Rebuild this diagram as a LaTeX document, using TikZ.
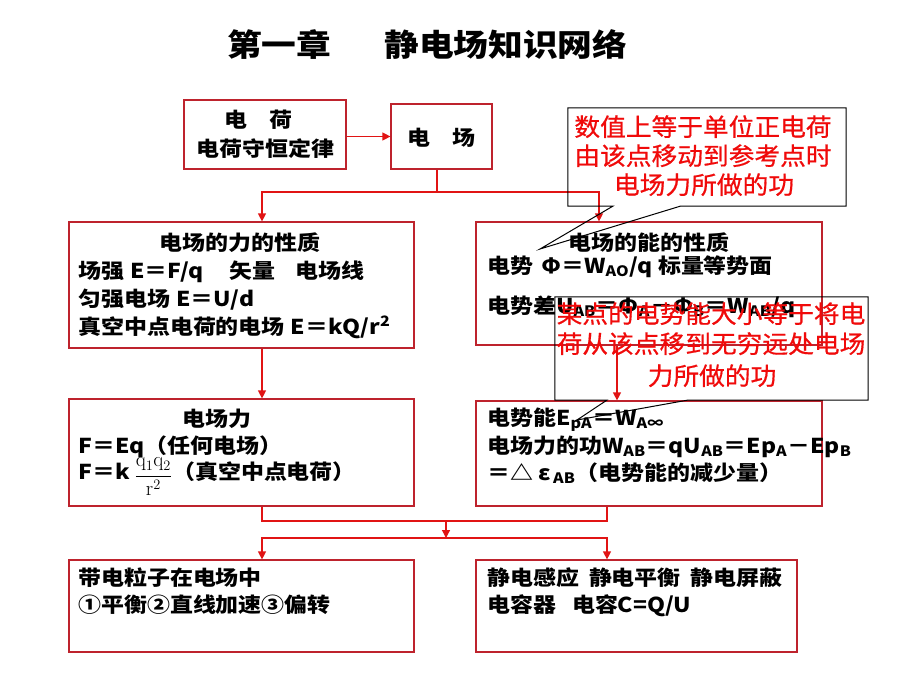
\documentclass[tikz,border=0pt]{standalone}
\usepackage[no-math]{fontspec}
\setmainfont{Noto Sans CJK SC}
\newfontfamily\blk[FakeStretch=1.12]{Noto Sans CJK SC}
\newfontfamily\rfont[FakeStretch=1.05,FakeBold=0.6]{Noto Sans CJK SC}
\usetikzlibrary{arrows.meta,calc}
\definecolor{boxred}{RGB}{190,35,45}
\definecolor{linered}{RGB}{225,20,20}
\definecolor{txtred}{RGB}{240,10,10}
\newcommand\sub[1]{\textsubscript{#1}}
\tikzset{
  bx/.style={draw=boxred, line width=1.2pt, inner sep=0pt},
  txt/.style={inner sep=0pt, anchor=base west, font=\blk\bfseries\fontsize{20.5}{24}\selectfont},
  txtc/.style={txt, anchor=base},
  rtxt/.style={inner sep=0pt, anchor=base, text=txtred, font=\rfont\fontsize{24.5}{28}\selectfont},
  arr/.style={draw=linered, line width=1.2pt, -{Triangle[length=8pt,width=8pt]}},
  ln/.style={draw=linered, line width=1.2pt},
  co/.style={draw=black, line width=1pt, line join=miter}
}
\begin{document}
\begin{tikzpicture}[x=1pt,y=-1pt]
\useasboundingbox (0,0) rectangle (920,690);
\fill[white] (0,0) rectangle (920,690);

% title
\node[anchor=base west, inner sep=0pt, font=\blk\bfseries\fontsize{31}{31}\selectfont] (title) at (227,57) {第一章\hspace{53pt}静电场知识网络};

% boxes
\node[bx, minimum width=162pt, minimum height=69pt] (b1) at (265,134.5) {};
\node[bx, minimum width=101pt, minimum height=65pt] (b2) at (441.5,136.5) {};
\node[bx, minimum width=345pt, minimum height=126pt] (b3) at (241.5,285) {};
\node[bx, minimum width=346pt, minimum height=123pt] (b4) at (649,283.5) {};
\node[bx, minimum width=345pt, minimum height=107pt] (b5) at (241.5,452.5) {};
\node[bx, minimum width=346pt, minimum height=105pt] (b6) at (649,453.5) {};
\node[bx, minimum width=345pt, minimum height=92pt] (b7) at (241.5,606) {};
\node[bx, minimum width=321pt, minimum height=92pt] (b8) at (636.5,606) {};

% box texts
\node[txtc] (b1t) at (258.5,128) {电\hspace{23pt}荷};
\node[txtc] (b1l) at (265.5,156) {电荷守恒定律};
\node[txtc] (b2t) at (441.5,145) {电\hspace{23pt}场};

\node[txtc] (b3t) at (240,250) {电场的力的性质};
\node[txt] (b3l1) at (78,278) {场强\hspace{6pt}E＝F/q\hspace{26pt}矢量\hspace{20pt}电场线};
\node[txt] (b3l2) at (78,306) {匀强电场\hspace{6pt}E＝U/d};
\node[txt] (b3l3) at (78,334) {真空中点电荷的电场\hspace{6pt}E＝kQ/r\textsuperscript{2}};

\node[txtc] (b4t) at (649,250) {电场的能的性质};
\node[txt] (b4l1) at (487,273) {电势\hspace{8pt}Φ＝W\sub{AO}/q 标量等势面};
\node[txt] (b4l2) at (487,313) {电势差U\sub{AB}＝Φ\sub{A}－Φ\sub{B}＝W\sub{AB}/q};

\node[txtc] (b5t) at (217,426) {电场力};
\node[txt] (b5l1) at (78,453) {F＝Eq（任何电场）};
\node[txt] (b5l2) at (78,479) {F＝k\hspace{5pt}\raisebox{-2pt}{\fontsize{21.5}{21.5}\selectfont$\displaystyle\frac{\mathrm{q}_1\mathrm{q}_2}{\mathrm{r}^2}$}（真空中点电荷）};

\node[txt] (b6l1) at (487,425) {电势能E\sub{pA}＝W\sub{A∞}};
\node[txt] (b6l2) at (487,453) {电场力的功W\sub{AB}＝qU\sub{AB}＝Ep\sub{A}－Ep\sub{B}};
\node[txt] (b6l3) at (487,480) {＝△ ε\sub{\,AB}（电势能的减少量）};

\node[txt] (b7l1) at (78,585) {带电粒子在电场中};
\node[txt] (b7l2) at (78,612) {①平衡②直线加速③偏转};

\node[txt] (b8l1) at (487,585) {静电感应\hspace{10pt}静电平衡\hspace{10pt}静电屏蔽};
\node[txt] (b8l2) at (487,612) {电容器\hspace{16pt}电容C=Q/U};

% connectors
\draw[arr] (b1.east |- b2.west) -- (b2.west);
\coordinate (j1) at (437,192);
\draw[ln] ([xshift=-4.5pt]b2.south) -- (j1);
\draw[arr] (j1) -| ([xshift=20.5pt]b3.north);
\draw[arr] (j1) -| ([xshift=-50pt]b4.north);
\draw[arr] ([xshift=20.5pt]b3.south) -- ([xshift=20.5pt]b5.north);
\draw[arr] ([xshift=-32pt]b4.south) -- ([xshift=-32pt]b6.north);
\coordinate (m1) at (446,521);
\coordinate (m2) at (446,538);
\draw[ln] ([xshift=20.5pt]b5.south) |- (m1) -| ([xshift=-42pt]b6.south);
\draw[arr] (m1) -- (m2);
\draw[arr] (m2) -| ([xshift=20.5pt]b7.north);
\draw[arr] (m2) -| ([xshift=-29.5pt]b8.north);

% callout 1
\node[minimum width=278pt, minimum height=98pt, inner sep=0pt] (c1) at (707,157) {};
\coordinate (p1) at (540,249);
\draw[co] (c1.north west) -- (c1.north east) -- (c1.south east) -- ([xshift=-166pt]c1.south east) -- (p1) -- ([xshift=45pt]c1.south west) -- (c1.south west) -- cycle;
\node[rtxt] (c1a) at (703,136) {数值上等于单位正电荷};
\node[rtxt] (c1b) at (703,165) {由该点移动到参考点时};
\node[rtxt] (c1c) at (704,194) {电场力所做的功};

% callout 2
\node[minimum width=313pt, minimum height=103pt, inner sep=0pt] (c2) at (711.5,348.5) {};
\coordinate (p2) at (577,420);
\draw[co] (c2.north west) -- (c2.north east) -- (c2.south east) -- ([xshift=-181pt]c2.south east) -- (p2) -- ([xshift=52pt]c2.south west) -- (c2.south west) -- cycle;
\node[rtxt] (c2a) at (711,323) {某点的电势能大小等于将电};
\node[rtxt] (c2b) at (711,353) {荷从该点移到无穷远处电场};
\node[rtxt] (c2c) at (712,385) {力所做的功};
\end{tikzpicture}
\end{document}
